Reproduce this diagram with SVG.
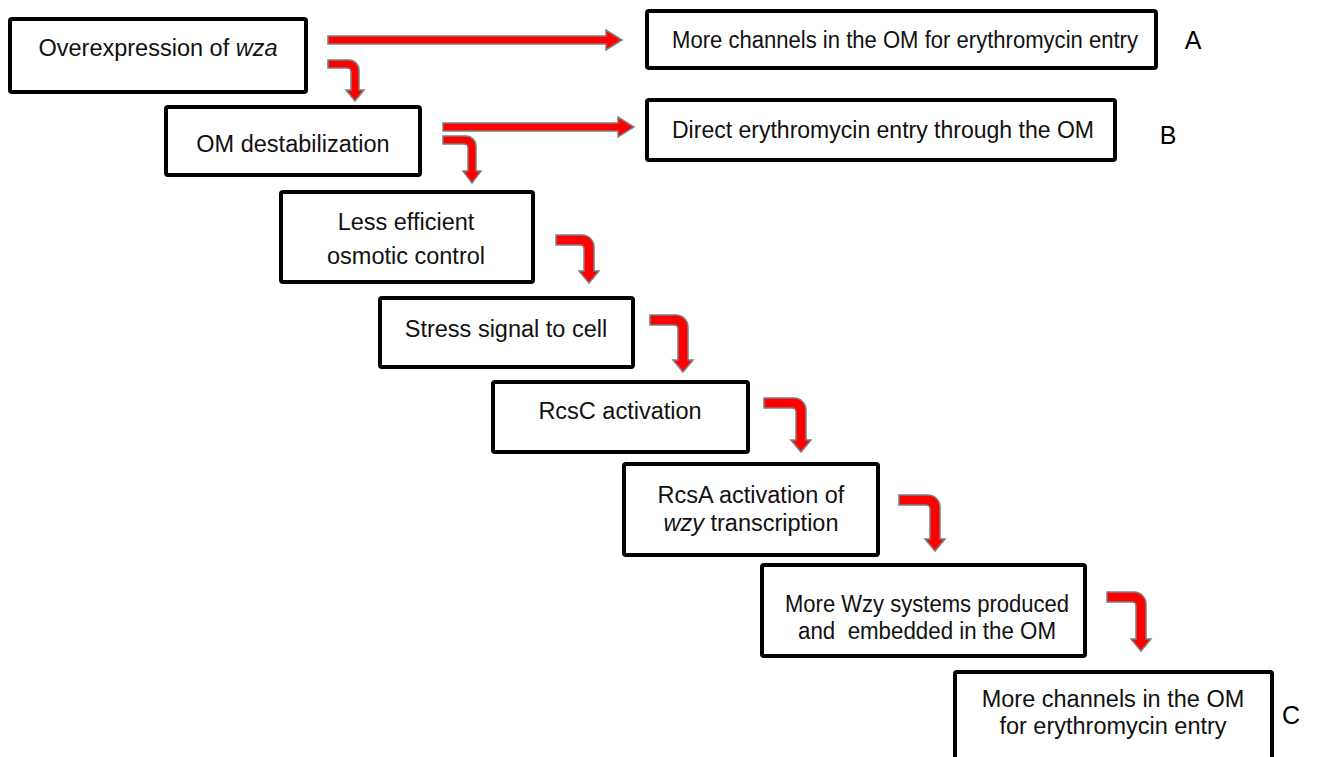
<svg xmlns="http://www.w3.org/2000/svg" width="1319" height="757" viewBox="0 0 1319 757">
<style>
.box{fill:#fff;stroke:#000;stroke-width:4;stroke-linejoin:round}
.t{font-family:"Liberation Sans",Arial,sans-serif;font-size:23.5px;fill:#111;text-anchor:middle}
.lab{font-family:"Liberation Sans",Arial,sans-serif;font-size:25px;fill:#000;text-anchor:middle}
.arr{fill:#ff0000;stroke:#7f7f7f;stroke-width:1.5;stroke-linejoin:miter}
</style>
<rect width="1319" height="757" fill="#fff"/>
<g id="connectors">
<path class="arr" d="M328,36 H606 V30 L622,40 L606,50 V44 H328 Z"/>
<path class="arr" d="M443,123 H618 V117 L634,127 L618,137 V131 H443 Z"/>
<path class="arr" d="M328,60 H349 A10,10 0 0 1 359,70 V90 H364 L355,101 L346,90 H351 V72 A4,4 0 0 0 347,68 H328 Z"/>
<path class="arr" d="M443,136 H466 A10,10 0 0 1 476,146 V171 H481 L472,183 L463,171 H468 V148 A4,4 0 0 0 464,144 H443 Z"/>
<path class="arr" d="M556,235 H582 A12,12 0 0 1 594,247 V271 H599 L589,283 L579,271 H584 V249 A4,4 0 0 0 580,245 H556 Z"/>
<path class="arr" d="M650,315 H676 A12,12 0 0 1 688,327 V360 H693 L683,372 L673,360 H678 V329 A4,4 0 0 0 674,325 H650 Z"/>
<path class="arr" d="M764,398 H794 A12,12 0 0 1 806,410 V440 H811 L801,452 L791,440 H796 V412 A4,4 0 0 0 792,408 H764 Z"/>
<path class="arr" d="M899,495 H928 A12,12 0 0 1 940,507 V539 H945 L935,551 L925,539 H930 V509 A4,4 0 0 0 926,505 H899 Z"/>
<path class="arr" d="M1107,592 H1134 A12,12 0 0 1 1146,604 V639 H1151 L1141,651 L1131,639 H1136 V606 A4,4 0 0 0 1132,602 H1107 Z"/>
</g>
<g id="n1"><rect class="box" x="10" y="19" width="296" height="73" rx="2"/><text class="t" x="158" y="56">Overexpression of <tspan font-style="italic">wza</tspan></text></g>
<g id="nA"><rect class="box" x="647" y="11" width="509" height="57" rx="2"/><text class="t" x="905" y="48" textLength="466" lengthAdjust="spacingAndGlyphs">More channels in the OM for erythromycin entry</text></g>
<g id="labA"><text class="lab" x="1193" y="49">A</text></g>
<g id="n2"><rect class="box" x="166" y="107" width="254" height="68" rx="2"/><text class="t" x="293" y="152">OM destabilization</text></g>
<g id="nB"><rect class="box" x="647" y="100" width="468" height="60" rx="2"/><text class="t" x="883" y="138" textLength="422" lengthAdjust="spacingAndGlyphs">Direct erythromycin entry through the OM</text></g>
<g id="labB"><text class="lab" x="1168" y="144">B</text></g>
<g id="n3"><rect class="box" x="281" y="192" width="252" height="90" rx="2"/><text class="t" x="406" y="230">Less efficient</text><text class="t" x="406" y="264">osmotic control</text></g>
<g id="n4"><rect class="box" x="380" y="298" width="253" height="69" rx="2"/><text class="t" x="506" y="337">Stress signal to cell</text></g>
<g id="n5"><rect class="box" x="493" y="382" width="255" height="70" rx="2"/><text class="t" x="620" y="419">RcsC activation</text></g>
<g id="n6"><rect class="box" x="624" y="464" width="254" height="91" rx="2"/><text class="t" x="751" y="503">RcsA activation of</text><text class="t" x="751" y="531"><tspan font-style="italic">wzy</tspan> transcription</text></g>
<g id="n7"><rect class="box" x="762" y="565" width="323" height="91" rx="2"/><text class="t" x="927" y="612" textLength="284" lengthAdjust="spacingAndGlyphs">More Wzy systems produced</text><text class="t" x="927" y="639" xml:space="preserve" textLength="258" lengthAdjust="spacingAndGlyphs">and  embedded in the OM</text></g>
<g id="n8"><rect class="box" x="955" y="672" width="317" height="100" rx="2"/><text class="t" x="1113" y="707">More channels in the OM</text><text class="t" x="1113" y="734">for erythromycin entry</text></g>
<g id="labC"><text class="lab" x="1291" y="724">C</text></g>
</svg>
